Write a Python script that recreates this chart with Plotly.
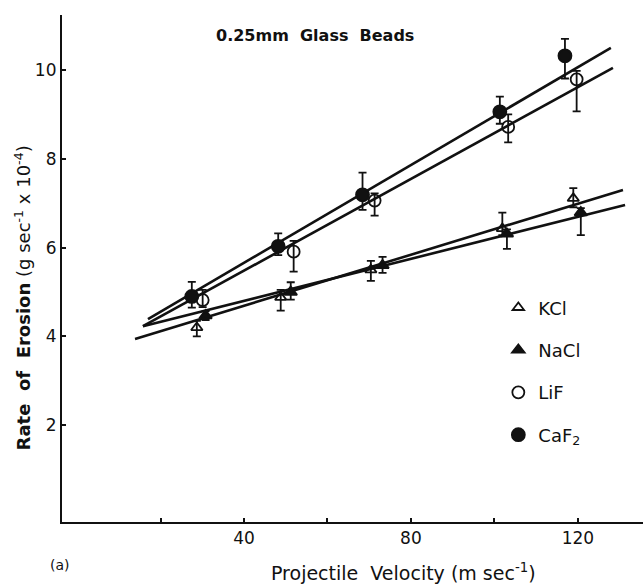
import plotly.graph_objects as go

# ---- data ----
kcl_x = [28.7, 48.8, 70.4, 101.9, 118.9]
kcl_y = [4.20, 4.88, 5.50, 6.43, 7.11]
kcl_ep = [0.15, 0.17, 0.20, 0.36, 0.23]
kcl_em = [0.20, 0.30, 0.25, 0.15, 0.20]

nacl_x = [30.8, 51.2, 73.2, 103.0, 120.7]
nacl_y = [4.47, 5.00, 5.60, 6.31, 6.79]
nacl_ep = [0.10, 0.22, 0.19, 0.10, 0.10]
nacl_em = [0.10, 0.17, 0.17, 0.34, 0.51]

lif_x = [30.1, 51.9, 71.3, 103.3, 119.7]
lif_y = [4.82, 5.91, 7.06, 8.72, 9.79]
lif_ep = [0.23, 0.24, 0.16, 0.28, 0.19]
lif_em = [0.16, 0.45, 0.34, 0.35, 0.72]

caf_x = [27.5, 48.2, 68.4, 101.3, 116.9]
caf_y = [4.90, 6.03, 7.19, 9.06, 10.32]
caf_ep = [0.33, 0.29, 0.50, 0.34, 0.38]
caf_em = [0.25, 0.20, 0.34, 0.27, 0.51]

# fitted straight lines (end points)
kcl_line_x = [13.9, 130.8]
kcl_line_y = [3.94, 7.30]
nacl_line_x = [15.8, 131.3]
nacl_line_y = [4.23, 6.96]
lif_line_x = [15.8, 128.4]
lif_line_y = [4.23, 10.05]
caf_line_x = [17.0, 127.9]
caf_line_y = [4.39, 10.50]

x_ticks = [40, 80, 120]
x_minor_ticks = [20, 60, 100]
y_ticks = [2, 4, 6, 8, 10]

FONT = "DejaVu Sans"
BLACK = "#111111"

fig = go.Figure()

for lx, ly in [(kcl_line_x, kcl_line_y), (nacl_line_x, nacl_line_y),
               (lif_line_x, lif_line_y), (caf_line_x, caf_line_y)]:
    fig.add_trace(go.Scatter(x=lx, y=ly, mode="lines",
                             line=dict(color=BLACK, width=2.6),
                             showlegend=False, hoverinfo="skip"))

series = [
    ("KCl", kcl_x, kcl_y, kcl_ep, kcl_em, "triangle-up-open", 10),
    ("NaCl", nacl_x, nacl_y, nacl_ep, nacl_em, "triangle-up", 11),
    ("LiF", lif_x, lif_y, lif_ep, lif_em, "circle-open", 12),
    ("CaF<sub>2</sub>", caf_x, caf_y, caf_ep, caf_em, "circle", 13),
]
for i, (name, xs, ys, ep, em, sym, sz) in enumerate(series):
    fig.add_trace(go.Scatter(
        x=xs, y=ys, mode="markers", name=name, legendgroup=str(i),
        marker=dict(symbol=sym, size=sz, color=BLACK,
                    line=dict(color=BLACK, width=1.8)),
        error_y=dict(type="data", symmetric=False, array=ep, arrayminus=em,
                     color=BLACK, thickness=1.8, width=4),
    ))

fig.update_layout(
    width=643, height=587,
    margin=dict(l=62, r=0, t=15, b=65),
    paper_bgcolor="white", plot_bgcolor="white",
    font=dict(family=FONT, color=BLACK, size=16),
    legend=dict(x=0.751, y=0.459, xanchor="left", yanchor="top",
                bgcolor="rgba(0,0,0,0)", tracegroupgap=16,
                font=dict(size=18, family=FONT)),
    xaxis=dict(range=[-3.6, 135.6], showgrid=False, zeroline=False,
               showline=True, linecolor=BLACK, linewidth=2,
               tickvals=x_ticks, ticks="inside", ticklen=4, tickwidth=1.5,
               tickcolor=BLACK, tickfont=dict(size=17, family=FONT),
               minor=dict(tickmode="array", tickvals=x_minor_ticks,
                          ticks="inside", ticklen=4,
                          tickcolor=BLACK, tickwidth=1.5)),
    yaxis=dict(range=[-0.18, 11.24], showgrid=False, zeroline=False,
               showline=True, linecolor=BLACK, linewidth=2.2,
               tickvals=y_ticks, ticks="inside", ticklen=4, tickwidth=1.5,
               tickcolor=BLACK, tickfont=dict(size=17, family=FONT)),
    annotations=[
        dict(text="<b>0.25mm  Glass  Beads</b>", x=0.435, y=0.96,
             xanchor="center", yanchor="middle",
             xref="paper", yref="paper", showarrow=False,
             font=dict(size=16, family=FONT)),
        dict(text="<b>Rate  of  Erosion</b> (g sec<sup>-1</sup> x 10<sup>-4</sup>)",
             x=-0.068, y=0.442, xanchor="center", yanchor="middle",
             xref="paper", yref="paper", showarrow=False,
             textangle=-90, font=dict(size=18, family=FONT)),
        dict(text="Projectile  Velocity (m sec<sup>-1</sup>)",
             x=0.587, y=-0.098, xanchor="center", yanchor="middle",
             xref="paper", yref="paper", showarrow=False,
             font=dict(size=19, family=FONT)),
        dict(text="(a)", x=-0.003, y=-0.084, xanchor="center", yanchor="middle",
             xref="paper", yref="paper",
             showarrow=False, font=dict(size=14, family=FONT)),
    ],
)

fig.write_html("out.html")
